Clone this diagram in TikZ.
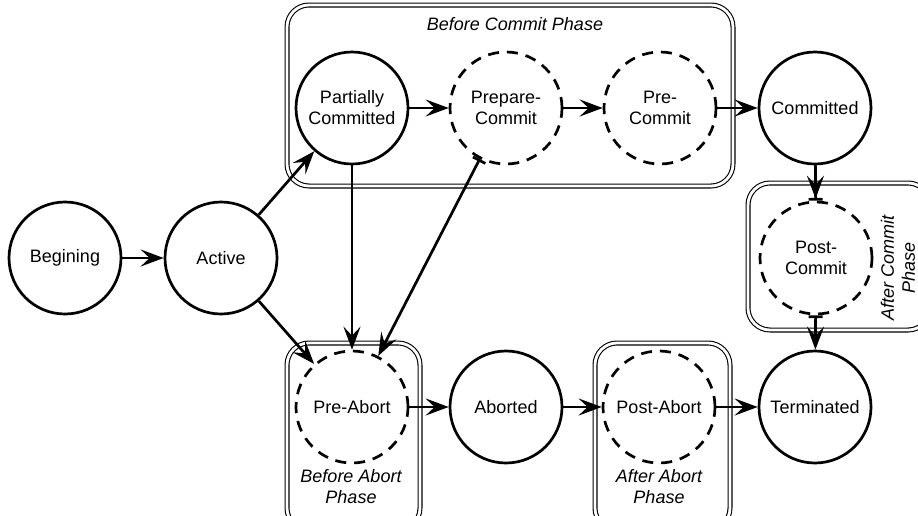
\documentclass[tikz,border=0pt]{standalone}
\usepackage{fontspec}
\setmainfont{Liberation Sans}
\usetikzlibrary{arrows.meta,calc}
\begin{document}
\begin{tikzpicture}[x=1pt,y=-1pt,
  st/.style={circle,draw,line width=2.7pt,minimum size=112pt,inner sep=0pt,align=center,fill=white,font=\fontsize{18}{21}\selectfont},
  dst/.style={st,dash pattern=on 11pt off 8pt},
  phase/.style={draw,double,double distance=2.8pt,line width=1.1pt,rounded corners=22pt,inner sep=0pt},
  plabel/.style={font=\fontsize{18}{21}\selectfont\itshape,align=center,inner sep=0pt},
  ln/.style={line width=2.7pt},
  tip/.style={Stealth[length=23pt,width=17pt,inset=9pt]},
  arr/.style={ln,-{Stealth[length=23pt,width=17pt,inset=9pt]}},
  tarr/.style={ln,{Bar[width=14pt]}-{Stealth[length=23pt,width=17pt,inset=9pt]}},
  ]
\useasboundingbox (0,0) rectangle (918,515);
\clip (0,0) rectangle (918,515);
% phase boxes
\node[phase,minimum width=446pt,minimum height=181pt] (bcp) at (510,95.5) {};
\node[phase,minimum width=182pt,minimum height=147pt] (acp) at (839,256.5) {};
\node[phase,minimum width=133pt,minimum height=187pt] (bap) at (353.5,436.5) {};
\node[phase,minimum width=135pt,minimum height=187pt] (aap) at (662.5,436.5) {};
% phase labels
\node[plabel] (bcpl) at (515,24) {Before Commit Phase};
\node[plabel,rotate=90] (acpl) at (898,268) {After Commit\\Phase};
\node[plabel] (bapl) at (351,487) {Before Abort\\Phase};
\node[plabel] (aapl) at (659,487) {After Abort\\Phase};
% states
\node[st] (beg) at (65,258) {Begining};
\node[st] (act) at (221,258) {Active};
\node[st] (pc) at (352,108) {Partially\\Committed};
\node[dst] (prc) at (506,108) {Prepare-\\Commit};
\node[dst] (prec) at (660,108) {Pre-\\Commit};
\node[st] (cm) at (815,108) {Committed};
\node[dst] (poc) at (816,258) {Post-\\Commit};
\node[dst] (pa) at (352,407) {Pre-Abort};
\node[st] (ab) at (506,407) {Aborted};
\node[dst] (pab) at (659,407) {Post-Abort};
\node[st] (tm) at (815,407) {Terminated};
% connectors
\draw[arr] (beg) -- (act);
\draw[arr] (act) -- (pc);
\draw[arr] (act) -- (pa);
\draw[arr] (pc) -- (pa);
\draw[tarr] (prc) -- (pa);
\draw[arr] (pc) -- (prc);
\draw[arr] (prc) -- (prec);
\draw[arr] (prec) -- (cm);
\draw[ln,{Bar[width=14pt]}-] (poc) -- (cm);
\draw[arr,shorten >=2pt] (cm) -- (poc);
\draw[tarr] (poc) -- (tm);
\draw[arr] (pa) -- (ab);
\draw[arr] (ab) -- (pab);
\draw[arr] (pab) -- (tm);
\end{tikzpicture}
\end{document}
